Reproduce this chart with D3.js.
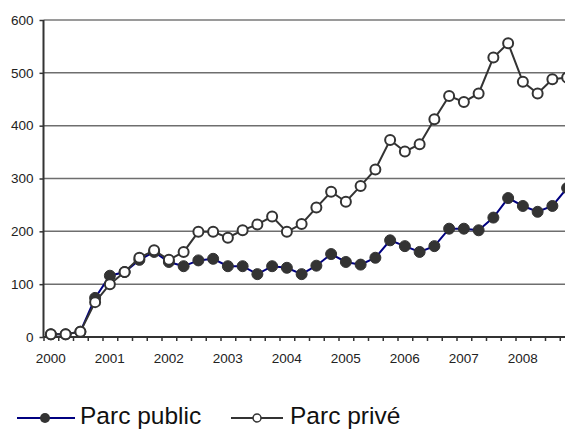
<!DOCTYPE html>
<html><head><meta charset="utf-8">
<script src="https://cdn.jsdelivr.net/npm/d3@7/dist/d3.min.js"></script>
<style>
html,body{margin:0;padding:0;background:#fff;overflow:hidden;}
svg{display:block;font-family:"Liberation Sans",Arial,sans-serif;}
</style></head>
<body><svg id="c" width="565" height="430"></svg>
<script>
const years = ["2000","2001","2002","2003","2004","2005","2006","2007","2008"];
const quarters = ["T1","T2","T3","T4"];
const categories = years.flatMap(y => quarters.map(q => y + q));
const parcPublic = [5,5,10,74,116,123,146,161,142,134,145,148,134,134,119,134,131,119,135,157,142,137,150,183,172,161,172,205,205,202,226,263,248,237,248,282];
const parcPrive  = [5,5,10,66,100,123,150,164,146,161,199,199,188,202,213,228,199,214,245,275,256,286,317,373,351,365,412,456,445,461,529,556,483,461,488,491];
const yTicks = [0,100,200,300,400,500,600];
const seriesNames = ["Parc public","Parc privé"];

(function(){
const svg = d3.select("#c");
const left = 43.5, step = 14.75, plotTop = 20, plotBottom = 337;
const x = d3.scaleBand().domain(categories).range([left, left + step * categories.length]).padding(0);
const xIdx = d3.scaleLinear().domain([0, categories.length]).range([left, left + step * categories.length]);
const y = d3.scaleLinear().domain([0, 600]).range([plotBottom, plotTop]);
const cx = d => x(d) + x.bandwidth() / 2;

// gridlines
svg.append("g").selectAll("line").data(yTicks.filter(v => v > 0)).join("line")
  .attr("x1", left).attr("x2", 580)
  .attr("y1", d => y(d)).attr("y2", d => y(d))
  .attr("stroke", d => d === 600 ? "#9a9a9a" : "#6e6e6e")
  .attr("stroke-width", d => d === 600 ? 2 : 1.5);

// y axis
const ya = svg.append("g").attr("transform", `translate(${left},0)`)
  .call(d3.axisLeft(y).tickValues(yTicks).tickSize(4).tickPadding(6).tickFormat(d3.format("d")));
ya.select(".domain").attr("stroke", "#333").attr("stroke-width", 2).attr("d", `M0,${plotTop}V${plotBottom}`);
ya.selectAll(".tick line").attr("stroke", "#333").attr("stroke-width", 1.5);
ya.selectAll("text").attr("font-size", 13.5).attr("fill", "#222").attr("font-family", "Liberation Sans, Arial, sans-serif");

// x axis ticks (category boundaries)
const xa = svg.append("g").attr("transform", `translate(0,${plotBottom})`)
  .call(d3.axisBottom(xIdx).tickValues(d3.range(0, categories.length + 1)).tickSize(4).tickFormat(""));
xa.select(".domain").attr("stroke", "#333").attr("stroke-width", 2).attr("d", `M${left},0H580`);
xa.selectAll(".tick line").attr("stroke", "#333").attr("stroke-width", 1.5);

// year labels at Q1
const yearScale = d3.scaleOrdinal().domain(years).range(years.map(yr => cx(yr + "T1")));
svg.append("g").selectAll("text").data(years).join("text")
  .attr("x", d => yearScale(d)).attr("y", 363)
  .attr("text-anchor", "middle").attr("font-size", 13.5).attr("fill", "#222")
  .text(d => d);

const line = d3.line().x((d, i) => cx(categories[i])).y(d => y(d));

// public series
svg.append("path").datum(parcPublic).attr("d", line)
  .attr("fill", "none").attr("stroke", "#000080").attr("stroke-width", 2);
svg.append("g").selectAll("circle").data(parcPublic).join("circle")
  .attr("cx", (d, i) => cx(categories[i])).attr("cy", d => y(d)).attr("r", 5.5)
  .attr("fill", "#333").attr("stroke", "#333").attr("stroke-width", 1);

// private series
svg.append("path").datum(parcPrive).attr("d", line)
  .attr("fill", "none").attr("stroke", "#333").attr("stroke-width", 2);
svg.append("g").selectAll("circle").data(parcPrive).join("circle")
  .attr("cx", (d, i) => cx(categories[i])).attr("cy", d => y(d)).attr("r", 5)
  .attr("fill", "#fff").attr("stroke", "#333").attr("stroke-width", 2);

// legend
const lg = svg.append("g");
const ly = 418;
lg.append("line").attr("x1", 17).attr("x2", 75).attr("y1", ly).attr("y2", ly).attr("stroke", "#000080").attr("stroke-width", 2);
lg.append("circle").attr("cx", 45).attr("cy", ly).attr("r", 5).attr("fill", "#333");
lg.append("text").attr("x", 80).attr("y", 424).attr("font-size", 24.5).attr("fill", "#111").text(seriesNames[0]);
lg.append("line").attr("x1", 231).attr("x2", 283).attr("y1", ly).attr("y2", ly).attr("stroke", "#333").attr("stroke-width", 2);
lg.append("circle").attr("cx", 257).attr("cy", ly).attr("r", 4).attr("fill", "#fff").attr("stroke", "#333").attr("stroke-width", 1.5);
lg.append("text").attr("x", 290).attr("y", 424).attr("font-size", 24.5).attr("fill", "#111").text(seriesNames[1]);
})();
</script></body></html>
